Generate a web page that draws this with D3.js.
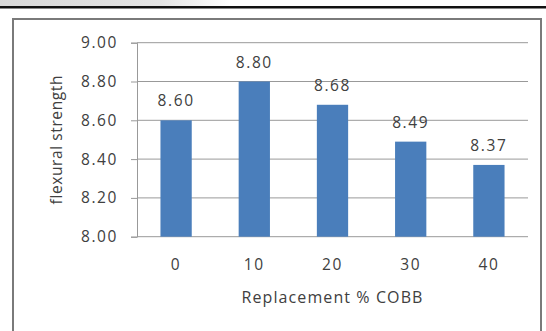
<!DOCTYPE html>
<html>
<head>
<meta charset="utf-8">
<script src="https://cdn.jsdelivr.net/npm/d3@7"></script>
<style>
  html, body { margin: 0; padding: 0; background: #fff; }
  svg { display: block; }
  text { font-family: "Open Sans", "Noto Sans", sans-serif; fill: #404040; }
</style>
</head>
<body>
<svg id="chart" width="546" height="331"></svg>
<script>
// Flexural strength by COBB replacement level
const categories = ["0", "10", "20", "30", "40"];
const values = [8.60, 8.80, 8.68, 8.49, 8.37];
const yTicks = [8.00, 8.20, 8.40, 8.60, 8.80, 9.00];
const xTitle = "Replacement % COBB";
const yTitle = "flexural strength";

const svg = d3.select("#chart");
const W = 546, H = 331;

// header strip and rule above the chart frame
const defs = svg.append("defs");
const grad = defs.append("linearGradient").attr("id", "strip").attr("x1", 0).attr("x2", 1);
grad.append("stop").attr("offset", "0%").attr("stop-color", "#d8d8d8");
grad.append("stop").attr("offset", "70%").attr("stop-color", "#e4e4e4");
grad.append("stop").attr("offset", "100%").attr("stop-color", "#ffffff");
svg.append("rect").attr("x", 0).attr("y", 0).attr("width", 230).attr("height", 6).attr("fill", "url(#strip)");
svg.append("rect").attr("x", 0).attr("y", 6).attr("width", W).attr("height", 2.5).attr("fill", "#111");

// chart frame
svg.append("rect").attr("x", 13).attr("y", 19).attr("width", 528).attr("height", 330)
  .attr("fill", "#fff").attr("stroke", "#7a7a7a").attr("stroke-width", 2);

const plot = { left: 137, right: 528, top: 42.7, bottom: 236.7 };

const x = d3.scaleBand().domain(categories).range([plot.left, plot.right]).paddingInner(0.6).paddingOuter(0.3);
const y = d3.scaleLinear().domain([8.0, 9.0]).range([plot.bottom, plot.top]);

const labelFont = 15.5, labelSpacing = 1.6;

// horizontal gridlines
svg.append("g").selectAll("line").data(yTicks.slice(1)).join("line")
  .attr("x1", plot.left).attr("x2", plot.right)
  .attr("y1", d => y(d)).attr("y2", d => y(d))
  .attr("stroke", "#999").attr("stroke-width", 1);

// y axis
const yAxis = svg.append("g").attr("transform", `translate(${plot.left},0)`)
  .call(d3.axisLeft(y).tickValues(yTicks).tickFormat(d3.format(".2f")).tickSize(6).tickPadding(13));
yAxis.select(".domain").attr("stroke", "#999");
yAxis.selectAll(".tick line").attr("stroke", "#999");
yAxis.selectAll("text").attr("font-size", labelFont).attr("letter-spacing", labelSpacing).attr("fill", "#404040");

// x axis
const xAxis = svg.append("g").attr("transform", `translate(0,${plot.bottom})`)
  .call(d3.axisBottom(x).tickSize(0).tickPadding(22));
xAxis.select(".domain").attr("stroke", "#999").attr("d", `M${plot.left},0H${plot.right}`);
xAxis.selectAll("text").attr("font-size", labelFont).attr("letter-spacing", labelSpacing).attr("fill", "#404040");

// bars
svg.append("g").selectAll("rect").data(values).join("rect")
  .attr("x", (d, i) => x(categories[i]))
  .attr("width", x.bandwidth())
  .attr("y", d => y(d))
  .attr("height", d => y(8.0) - y(d))
  .attr("fill", "#4a7ebb");

// value labels
svg.append("g").selectAll("text").data(values).join("text")
  .attr("x", (d, i) => x(categories[i]) + x.bandwidth() / 2)
  .attr("y", d => y(d) - 14)
  .attr("text-anchor", "middle")
  .attr("font-size", labelFont)
  .attr("letter-spacing", labelSpacing)
  .text(d => d.toFixed(2));

// axis titles
svg.append("text").attr("x", (plot.left + plot.right) / 2).attr("y", 303)
  .attr("text-anchor", "middle").attr("font-size", 16).attr("letter-spacing", 1.1).text(xTitle);
svg.append("text")
  .attr("transform", `translate(57,${(plot.top + plot.bottom) / 2}) rotate(-90)`)
  .attr("text-anchor", "middle").attr("dy", "0.35em").attr("font-size", 15.5).attr("letter-spacing", 0.6).text(yTitle);
</script>
</body>
</html>
